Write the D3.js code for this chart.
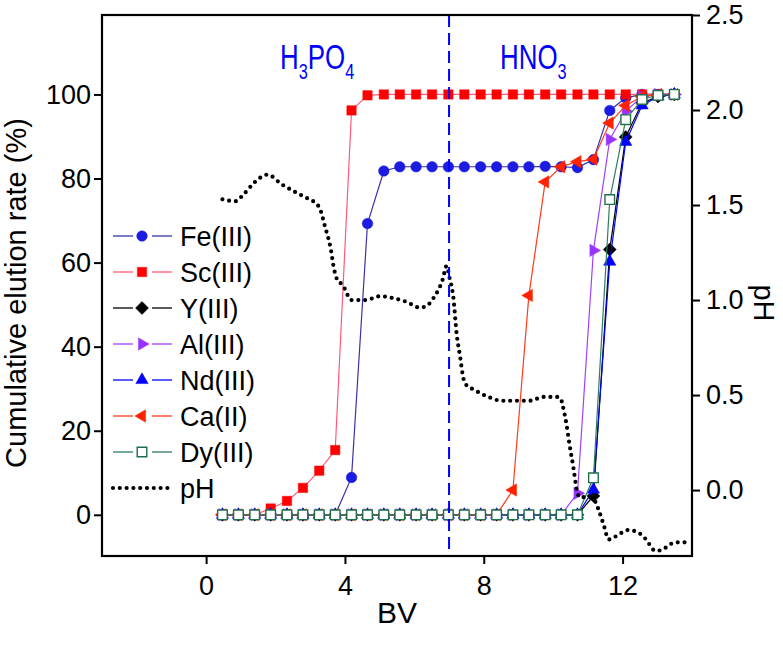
<!DOCTYPE html>
<html><head><meta charset="utf-8">
<script src="https://cdn.jsdelivr.net/npm/d3@7/dist/d3.min.js"></script>
<style>
html,body{margin:0;padding:0;background:#fff;}
svg text{font-family:"Liberation Sans",Arial,sans-serif;fill:#000;}
</style></head>
<body><svg id="c" width="783" height="650"></svg>
<script>
// ---------- data ----------
const bv = [0.47,0.93,1.40,1.86,2.33,2.79,3.26,3.72,4.19,4.65,5.12,5.58,6.05,6.51,6.98,7.44,7.91,8.37,8.84,9.30,9.77,10.23,10.70,11.16,11.63,12.09,12.56,13.02,13.49];
const fe = [0,0,0,0,0,0,0,0,8.9,69.3,81.8,82.8,82.8,82.8,82.8,82.8,82.8,82.8,82.8,82.8,82.9,82.8,82.6,84.5,96.2,99.2,100,100,100];
const sc = [0,0,0,1.5,3.3,6.4,10.5,15.4,96.2,99.8,100,100,100,100,100,100,100,100,100,100,100,100,100,100,100,100,100,100,100];
const yy = [0,0,0,0,0,0,0,0,0,0,0,0,0,0,0,0,0,0,0,0,0,0,0,4.5,63.1,89.9,98.0,99.5,100];
const al = [0,0,0,0,0,0,0,0,0,0,0,0,0,0,0,0,0,0,0,0,0,0,5.1,62.9,89.3,96.0,99.5,100,100];
const nd = [0,0,0,0,0,0,0,0,0,0,0,0,0,0,0,0,0,0,0,0,0,0,0,6.0,60.2,88.7,97.4,99.5,100];
const ca = [0,0,0,0,0,0,0,0,0,0,0,0,0,0,0,0,0,0,5.9,52.2,79.2,82.8,84.0,84.6,93.2,97.4,99.5,100,100];
const dy = [0,0,0,0,0,0,0,0,0,0,0,0,0,0,0,0,0,0,0,0,0,0,0,8.8,75.0,94.0,98.8,99.8,100];

const phBV  = [0.47,0.85,1.05,1.40,1.77,2.17,2.55,2.97,3.16,3.28,3.42,3.59,3.69,3.77,3.93,4.19,4.60,5.01,5.39,5.78,6.16,6.36,6.55,6.82,6.93,7.01,7.12,7.22,7.32,7.41,7.51,7.70,8.13,8.52,8.90,9.32,9.72,10.11,10.22,10.28,10.38,10.47,10.59,10.68,10.78,10.97,11.21,11.31,11.45,11.60,11.79,12.17,12.58,12.75,12.94,13.14,13.33,13.52,13.90];
const phVal = [1.53,1.52,1.55,1.62,1.66,1.61,1.57,1.53,1.51,1.48,1.39,1.27,1.16,1.11,1.08,1.00,1.00,1.02,1.01,0.99,0.96,0.97,1.01,1.11,1.18,1.12,1.02,0.82,0.70,0.59,0.55,0.53,0.49,0.47,0.47,0.47,0.49,0.49,0.48,0.44,0.35,0.24,0.11,0.00,-0.04,-0.035,-0.06,-0.105,-0.18,-0.26,-0.245,-0.21,-0.24,-0.28,-0.32,-0.315,-0.29,-0.275,-0.275];

const xTicks = [0,4,8,12];
const yLTicks = [0,20,40,60,80,100];
const yRTicks = [0.0,0.5,1.0,1.5,2.0,2.5];
const acidSwitch = 7;

const seriesNames = ["Fe(III)","Sc(III)","Y(III)","Al(III)","Nd(III)","Ca(II)","Dy(III)"];
const seriesVals = [fe,sc,yy,al,nd,ca,dy];

// ---------- styles ----------
const styles = [
  {sym:"circle",  fill:"#1c1ce0", stroke:"#1c1ce0", line:"#3a32a8", size:88},
  {sym:"square",  fill:"#ff0000", stroke:"#ff0000", line:"#ff5a78", size:88},
  {sym:"diamond", fill:"#000000", stroke:"#000000", line:"#000000", size:84},
  {sym:"tright",  fill:"#9933ff", stroke:"#9933ff", line:"#a040ff", size:66},
  {sym:"tup",     fill:"#0000ff", stroke:"#0000ff", line:"#0000ff", size:66},
  {sym:"tleft",   fill:"#ff2200", stroke:"#ff2200", line:"#ff3a1a", size:66},
  {sym:"osquare", fill:"#ffffff", stroke:"#1f6f4a", line:"#2e7d5b", size:92}
];

const svg = d3.select("#c");
const L=102, R=692, T=15, B=556;
const x = d3.scaleLinear().domain([-3,14]).range([L,R]);
const yL = d3.scaleLinear().domain([-9.8,118.9]).range([B,T]);
const yR = d3.scaleLinear().domain([-0.347,2.5]).range([B,T]);

function symPath(s){
  if (s.sym==="circle") return {d:d3.symbol(d3.symbolCircle,s.size)(), rot:0};
  if (s.sym==="square"||s.sym==="osquare") return {d:d3.symbol(d3.symbolSquare,s.size)(), rot:0};
  if (s.sym==="diamond") return {d:d3.symbol(d3.symbolSquare,s.size)(), rot:45};
  if (s.sym==="tup") return {d:d3.symbol(d3.symbolTriangle,s.size)(), rot:0};
  if (s.sym==="tright") return {d:d3.symbol(d3.symbolTriangle,s.size)(), rot:90};
  if (s.sym==="tleft") return {d:d3.symbol(d3.symbolTriangle,s.size)(), rot:-90};
}

const plot = svg.append("g");
svg.append("clipPath").attr("id","pc").append("rect")
  .attr("x",L).attr("y",T).attr("width",R-L).attr("height",B-T);

// series
const line = d3.line().x(d=>x(d[0])).y(d=>yL(d[1]));
seriesVals.forEach((vals,i)=>{
  const s = styles[i];
  const pts = bv.map((b,j)=>[b,vals[j]]);
  const g = plot.append("g");
  g.append("path").attr("d",line(pts)).attr("fill","none")
    .attr("stroke",s.line).attr("stroke-width",1.2);
  const sp = symPath(s);
  g.selectAll("path.m").data(pts).enter().append("path").attr("class","m")
    .attr("d",sp.d)
    .attr("transform",d=>`translate(${x(d[0])},${yL(d[1])}) rotate(${sp.rot})`)
    .attr("fill",s.fill).attr("stroke",s.stroke)
    .attr("stroke-width",s.sym==="osquare"?1.4:0.5);
});

// pH dotted curve
const phLine = d3.line().curve(d3.curveMonotoneX).x(d=>x(d[0])).y(d=>yR(d[1]));
plot.append("path").attr("clip-path","url(#pc)")
  .attr("d",phLine(phBV.map((b,i)=>[b,phVal[i]])))
  .attr("fill","none").attr("stroke","#000").attr("stroke-width",4.2)
  .attr("stroke-linecap","round").attr("stroke-dasharray","0 6.8");

// vertical dashed separator
plot.append("line").attr("x1",x(acidSwitch)).attr("x2",x(acidSwitch))
  .attr("y1",T).attr("y2",B).attr("stroke","#0000ff").attr("stroke-width",2)
  .attr("stroke-dasharray","12 6");

// frame
svg.append("rect").attr("x",L).attr("y",T).attr("width",R-L).attr("height",B-T)
  .attr("fill","none").attr("stroke","#000").attr("stroke-width",2.2);

// axes
const fs = 27;
const ax = svg.append("g").attr("transform",`translate(0,${B})`)
  .call(d3.axisBottom(x).tickValues(xTicks).tickSize(8).tickPadding(12).tickFormat(d3.format("d")));
const ayl = svg.append("g").attr("transform",`translate(${L},0)`)
  .call(d3.axisLeft(yL).tickValues(yLTicks).tickSize(8).tickPadding(3).tickFormat(d3.format("d")));
const ayr = svg.append("g").attr("transform",`translate(${R},0)`)
  .call(d3.axisRight(yR).tickValues(yRTicks).tickSize(8).tickPadding(6).tickFormat(d3.format(".1f")));
[ax,ayl,ayr].forEach(a=>{
  a.select(".domain").remove();
  a.selectAll(".tick line").attr("stroke","#000").attr("stroke-width",2);
  a.selectAll(".tick text").attr("font-size",fs).attr("font-family","Liberation Sans, Arial, sans-serif").attr("fill","#000");
});

// axis titles
svg.append("text").attr("transform","translate(26,293) rotate(-90)")
  .attr("text-anchor","middle").attr("font-size",29).text("Cumulative elution rate (%)");
svg.append("text").attr("x",397).attr("y",623).attr("text-anchor","middle")
  .attr("font-size",30).text("BV");
svg.append("text").attr("transform","translate(754,303) rotate(90)")
  .attr("text-anchor","middle").attr("font-size",29).text("pH");

// acid labels
function chem(xp, parts){
  const g = svg.append("g").attr("transform",`translate(${xp},69) scale(0.74,1)`);
  const t = g.append("text").attr("font-size",35).style("fill","#0000ff");
  parts.forEach(p=>{
    const ts = t.append("tspan").text(p[0]);
    if (p[1]) ts.attr("font-size",22).attr("dy",10); else ts.attr("dy",p[2]||0);
  });
}
chem(280, [["H"],["3",true],["PO",false,-10],["4",true]]);
chem(500, [["HNO"],["3",true]]);

// legend
const lg = svg.append("g");
const legY0 = 236, legDY = 36;
seriesNames.forEach((n,i)=>{
  const s = styles[i], yv = legY0 + i*legDY;
  lg.append("line").attr("x1",113).attr("x2",133).attr("y1",yv).attr("y2",yv).attr("stroke",s.line).attr("stroke-width",1.3);
  lg.append("line").attr("x1",152).attr("x2",172).attr("y1",yv).attr("y2",yv).attr("stroke",s.line).attr("stroke-width",1.3);
  const sp = symPath(s);
  lg.append("path").attr("d",sp.d).attr("transform",`translate(142,${yv}) rotate(${sp.rot})`)
    .attr("fill",s.fill).attr("stroke",s.stroke).attr("stroke-width",s.sym==="osquare"?1.4:0.5);
  lg.append("text").attr("x",180).attr("y",yv+10).attr("font-size",fs).text(n);
});
const phY = legY0 + 7*legDY;
lg.append("line").attr("x1",113).attr("x2",170).attr("y1",phY).attr("y2",phY)
  .attr("stroke","#000").attr("stroke-width",4.2).attr("stroke-linecap","round").attr("stroke-dasharray","0 6.8");
lg.append("text").attr("x",180).attr("y",phY+10).attr("font-size",fs).text("pH");
</script></body></html>
